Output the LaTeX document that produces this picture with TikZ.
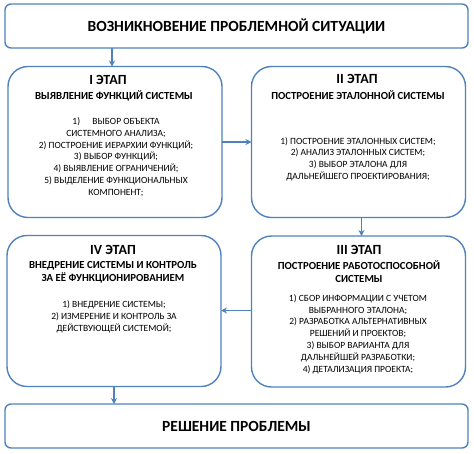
\documentclass[tikz,border=0pt]{standalone}
\usepackage{fontspec}
\setmainfont{Carlito}
\usetikzlibrary{arrows.meta,positioning}
\definecolor{boxColor}{HTML}{4F81BD}
\tikzset{
	stage/.style={draw=boxColor, line width=1.4pt, rounded corners=20pt, minimum width=214pt,
			minimum height=151pt, inner sep=0, outer sep=0},
	bar/.style={draw=boxColor, line width=1.4pt, rounded corners=6pt, minimum width=463pt,
			minimum height=44pt, outer sep=0, font=\fontsize{15.5}{17}\selectfont\bfseries},
	stitle/.style={inner sep=0, font=\fontsize{14}{16}\selectfont\bfseries},
	ssub/.style={inner sep=0, align=center, font=\fontsize{10.8}{13}\selectfont\bfseries},
	sbody/.style={inner sep=0, align=center, font=\fontsize{9.5}{11.8}\selectfont},
	flow/.style={->, >={Stealth[length=6pt,width=6pt]}, draw=boxColor, line width=1.2pt}
}
\begin{document}
\begin{tikzpicture}[x=1pt, y=-1pt]
				\useasboundingbox (0,0) rectangle (474,453);
				\node[bar] (start) at (236.5, 26) {ВОЗНИКНОВЕНИЕ ПРОБЛЕМНОЙ СИТУАЦИИ};
				\node[bar] (finish) at (236.5, 426) {РЕШЕНИЕ ПРОБЛЕМЫ};
				
				\node[stage] (st1) at (115, 142) {};
				\node[stage] (st2) at (358.5, 142) {};
				\node[stage] (st3) at (358.5, 311.5) {};
				\node[stage] (st4) at (114, 311) {};
				
				\node[stitle] (st1t) at (108, 80) {I ЭТАП};
				\node[ssub] (st1s) at (114, 96) {ВЫЯВЛЕНИЕ ФУНКЦИЙ СИСТЕМЫ};
				\node[sbody] (st1b) at (116, 157) {
					1)\hspace{1.3em}ВЫБОР ОБЪЕКТА \\
					СИСТЕМНОГО АНАЛИЗА; \\
					2) ПОСТРОЕНИЕ ИЕРАРХИИ ФУНКЦИЙ; \\
					3) ВЫБОР ФУНКЦИЙ; \\
					4) ВЫЯВЛЕНИЕ ОГРАНИЧЕНИЙ; \\
					5) ВЫДЕЛЕНИЕ ФУНКЦИОНАЛЬНЫХ \\
					КОМПОНЕНТ;};
				
				\node[stitle] (st2t) at (357, 79) {II ЭТАП};
				\node[ssub] (st2s) at (358, 95) {ПОСТРОЕНИЕ ЭТАЛОННОЙ СИСТЕМЫ};
				\node[sbody] (st2b) at (358, 159) {
					1) ПОСТРОЕНИЕ ЭТАЛОННЫХ СИСТЕМ; \\
					2) АНАЛИЗ ЭТАЛОННЫХ СИСТЕМ; \\
					3) ВЫБОР ЭТАЛОНА ДЛЯ \\
					ДАЛЬНЕЙШЕГО ПРОЕКТИРОВАНИЯ;};
				
				\node[stitle] (st3t) at (359, 250) {III ЭТАП};
				\node[ssub] (st3s) at (359, 272) {ПОСТРОЕНИЕ РАБОТОСПОСОБНОЙ \\ СИСТЕМЫ};
				\node[sbody] (st3b) at (358, 334) {
					1) СБОР ИНФОРМАЦИИ С УЧЕТОМ \\
					ВЫБРАННОГО ЭТАЛОНА; \\
					2) РАЗРАБОТКА АЛЬТЕРНАТИВНЫХ \\
					РЕШЕНИЙ И ПРОЕКТОВ; \\
					3) ВЫБОР ВАРИАНТА ДЛЯ \\
					ДАЛЬНЕЙШЕЙ РАЗРАБОТКИ; \\
					4) ДЕТАЛИЗАЦИЯ ПРОЕКТА;};
				
				\node[stitle] (st4t) at (113, 250) {IV ЭТАП};
				\node[ssub] (st4s) at (113, 272) {ВНЕДРЕНИЕ СИСТЕМЫ И КОНТРОЛЬ \\ ЗА ЕЁ ФУНКЦИОНИРОВАНИЕМ};
				\node[sbody] (st4b) at (114, 317) {
					1) ВНЕДРЕНИЕ СИСТЕМЫ; \\
					2) ИЗМЕРЕНИЕ И КОНТРОЛЬ ЗА \\
					ДЕЙСТВУЮЩЕЙ СИСТЕМОЙ;};
				
				\draw[flow] ([xshift=-3pt]start.south -| st1.north) -- ([xshift=-3pt]st1.north);
				\draw[flow] (st1.east) -- (st2.west);
				\draw[flow] ([xshift=3pt]st2.south) -- ([xshift=3pt]st3.north);
				\draw[flow] ([yshift=1pt]st3.west) -- ([yshift=1pt]st3.west -| st4.east);
				\draw[flow] (st4.south) -- (st4.south |- finish.north);
			\end{tikzpicture}
\end{document}
